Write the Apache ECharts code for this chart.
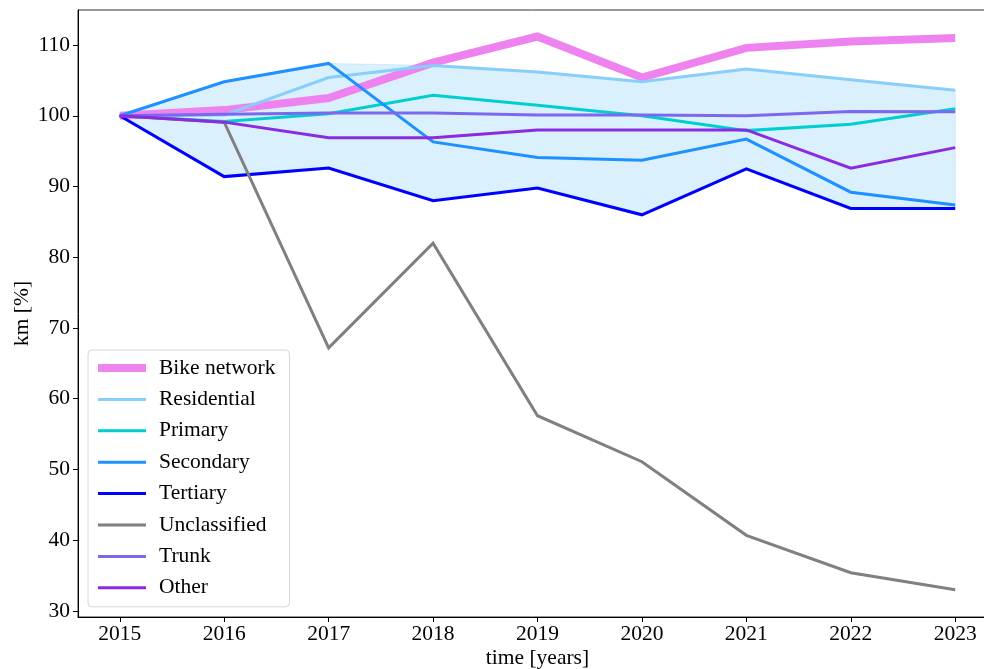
<!DOCTYPE html>
<html>
<head>
<meta charset="utf-8">
<script src="https://cdn.jsdelivr.net/npm/echarts@6/dist/echarts.min.js"></script>
<style>
  html, body { margin: 0; padding: 0; background: #fff; }
  #chart { width: 984px; height: 669px; }
</style>
</head>
<body>
<div id="chart"></div>
<script>
// Road network length relative to 2015 (%)
const years = [2015, 2016, 2017, 2018, 2019, 2020, 2021, 2022, 2023];
const bikeNetwork  = [100, 100.8, 102.5, 107.5, 111.2, 105.4, 109.6, 110.5, 111.0];
const residential  = [100, 100.1, 105.4, 107.1, 106.2, 104.8, 106.6, 105.1, 103.6];
const primary      = [100, 99.2, 100.3, 102.9, 101.5, 100.0, 97.9, 98.8, 101.0];
const secondary    = [100, 104.8, 107.4, 96.3, 94.1, 93.7, 96.7, 89.2, 87.4];
const tertiary     = [100, 91.4, 92.6, 88.0, 89.8, 86.0, 92.5, 86.9, 86.9];
const unclassified = [100, 99.1, 67.2, 82.0, 57.6, 51.1, 40.7, 35.4, 33.0];
const trunk        = [100, 100.2, 100.4, 100.4, 100.1, 100.1, 100.0, 100.6, 100.55];
const other        = [100, 99.1, 96.9, 96.9, 98.0, 98.0, 98.0, 92.6, 95.5];
const yTicks = [30, 40, 50, 60, 70, 80, 90, 100, 110];

const lineSeries = [
  { name: 'Bike network', data: bikeNetwork,  color: '#ee82ee', width: 8 },
  { name: 'Residential',  data: residential,  color: '#87cefa', width: 3 },
  { name: 'Primary',      data: primary,      color: '#00ced1', width: 3 },
  { name: 'Secondary',    data: secondary,    color: '#1e90ff', width: 3 },
  { name: 'Tertiary',     data: tertiary,     color: '#0000ff', width: 3 },
  { name: 'Unclassified', data: unclassified, color: '#808080', width: 3 },
  { name: 'Trunk',        data: trunk,        color: '#7b68ee', width: 3 },
  { name: 'Other',        data: other,        color: '#8a2be2', width: 3 }
];

// Envelope of the road classes (unclassified excluded)
const envelopeSets = [residential, primary, secondary, tertiary, trunk, other];
const envLow  = years.map((_, i) => Math.min(...envelopeSets.map(s => s[i])));
const envHigh = years.map((_, i) => Math.max(...envelopeSets.map(s => s[i])));
const envData = years.map((y, i) => [y, envLow[i], envHigh[i]]);

const pairs = arr => years.map((y, i) => [y, arr[i]]);
const font = 'Liberation Serif';
const fs = 21.5;

const series = [{
  name: 'envelope', type: 'custom', data: envData, silent: true, z: 1,
  encode: { x: 0, y: [1, 2] },
  renderItem: (params, api) => {
    if (params.dataIndex !== 0) return null;
    const upper = envData.map(d => api.coord([d[0], d[2]]));
    const lower = envData.slice().reverse().map(d => api.coord([d[0], d[1]]));
    return {
      type: 'polygon',
      shape: { points: upper.concat(lower) },
      style: { fill: 'rgba(135,206,250,0.3)', stroke: 'rgba(135,206,250,0.3)', lineWidth: 1 }
    };
  }
}];
lineSeries.forEach((s, k) => {
  series.push({
    name: s.name, type: 'line', data: pairs(s.data),
    symbol: 'none', showSymbol: false,
    lineStyle: { color: s.color, width: s.width, join: 'miter' },
    itemStyle: { color: s.color },
    z: 2 + k
  });
});

const chart = echarts.init(document.getElementById('chart'), null, { renderer: 'canvas' });
chart.setOption({
  animation: false,
  backgroundColor: '#fff',
  grid: {
    left: 78, top: 10, width: 919, bottom: 52,
    containLabel: false, outerBoundsMode: 'none',
    show: true, borderColor: '#333', borderWidth: 1
  },
  xAxis: {
    type: 'value', min: 2014.6, max: 2023.4,
    name: 'time [years]', nameLocation: 'middle', nameGap: 30, nameMoveOverlap: false,
    nameTextStyle: { fontFamily: font, fontSize: fs, color: '#000' },
    axisLine: { show: true, onZero: false, lineStyle: { color: '#000', width: 1 } },
    axisTick: { show: true, inside: false, length: 5, customValues: years, lineStyle: { color: '#000' } },
    axisLabel: { customValues: years, formatter: v => String(v), fontFamily: font, fontSize: fs, color: '#000', margin: 6 },
    splitLine: { show: false }
  },
  yAxis: {
    type: 'value', min: 29.15, max: 114.95,
    name: 'km [%]', nameLocation: 'middle', nameGap: 45, nameMoveOverlap: false,
    nameTextStyle: { fontFamily: font, fontSize: fs, color: '#000' },
    axisLine: { show: true, onZero: false, lineStyle: { color: '#000', width: 1 } },
    axisTick: { show: true, inside: false, length: 5, customValues: yTicks, lineStyle: { color: '#000' } },
    axisLabel: { customValues: yTicks, fontFamily: font, fontSize: fs, color: '#000', margin: 8 },
    splitLine: { show: false }
  },
  legend: {
    orient: 'vertical', left: 88, top: 350,
    data: lineSeries.map(s => ({ name: s.name, lineStyle: { width: s.width } })),
    itemWidth: 48, itemHeight: 14, itemGap: 9.4,
    padding: [7, 14, 8, 6],
    itemStyle: { opacity: 0 },
    backgroundColor: '#fff', borderColor: '#d6d6d6', borderWidth: 1, borderRadius: 4,
    textStyle: { fontFamily: font, fontSize: fs, color: '#000', padding: [0, 0, 0, 8] },
    selectedMode: false
  },
  series: series
});
</script>
</body>
</html>
